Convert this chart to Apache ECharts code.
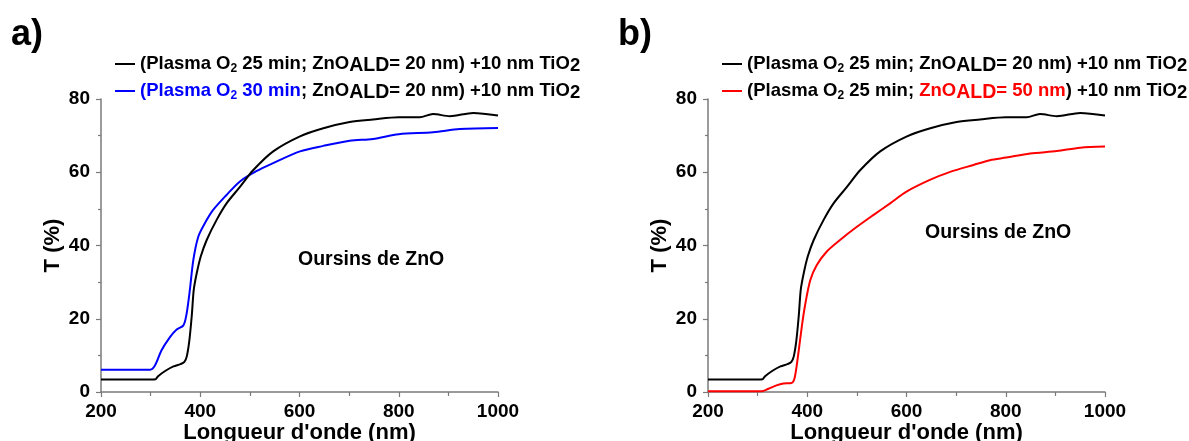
<!DOCTYPE html>
<html>
<head>
<meta charset="utf-8">
<script src="https://cdn.jsdelivr.net/npm/echarts@6/dist/echarts.min.js"></script>
<style>
html,body{margin:0;padding:0;background:#fff;}
#chart{width:1189px;height:441px;}
</style>
</head>
<body>
<div id="chart"></div>
<script>
// ---- data ----
const xTicks = [200, 400, 600, 800, 1000];
const yTicks = [0, 20, 40, 60, 80];

// Plasma O2 25 min; ZnO ALD = 20 nm (black, both panels)
const blackNm = [200, 250, 300, 310, 315, 330, 346, 360, 368, 373, 378, 383, 387, 393, 401, 413, 433, 453, 480, 507, 547, 601, 648, 701, 748, 800, 842, 869, 903, 950, 1000];
const blackT  = [3.4, 3.4, 3.4, 3.5, 4.3, 5.8, 7.0, 7.6, 8.2, 9.8, 14, 21, 28, 32.5, 37, 41.5, 47, 51.5, 56, 60.6, 65.7, 69.8, 72, 73.7, 74.4, 75, 75, 75.9, 75.3, 76.2, 75.5];

// Plasma O2 30 min; ZnO ALD = 20 nm (blue, panel a)
const blueNm = [200, 250, 299, 309, 322, 339, 352, 366, 372, 379, 386, 396, 409, 426, 453, 480, 513, 547, 601, 648, 701, 748, 800, 869, 923, 1000];
const blueT  = [6.1, 6.1, 6.1, 7.3, 11.4, 15, 17, 18.2, 21, 27.8, 36, 42.4, 46, 49.7, 53.8, 57.5, 60.3, 62.5, 65.7, 67.2, 68.6, 69.1, 70.4, 70.9, 71.8, 72.1];

// Plasma O2 25 min; ZnO ALD = 50 nm (red, panel b)
const redNm = [200, 250, 308, 322, 338, 352, 369, 375, 382, 389, 395, 406, 419, 439, 466, 500, 533, 567, 600, 647, 688, 735, 768, 801, 849, 903, 950, 1000];
const redT  = [0.2, 0.2, 0.2, 0.9, 1.8, 2.3, 2.5, 4.1, 10.5, 17.8, 23.2, 30.5, 34.6, 38.3, 41.5, 45.1, 48.3, 51.5, 54.7, 57.9, 60.1, 62, 63.3, 64, 65.1, 65.8, 66.7, 67];

const nameBlack = 'black25_20';
const nameBlue = 'blue30_20';
const nameRed = 'red25_50';
const legendRich = {
  [nameBlack]: '{b|(Plasma O}{s|2}{b| 25 min; ZnO}{ald|ALD}{b|= 20 nm) +10 nm TiO}{t|2}',
  [nameBlue]:  '{bl|(Plasma O}{sbl|2}{bl| 30 min}{b|; ZnO}{ald|ALD}{b|= 20 nm) +10 nm TiO}{t|2}',
  [nameRed]:   '{b|(Plasma O}{s|2}{b| 25 min; }{r|ZnO}{aldr|ALD}{r|= 50 nm}{b|) +10 nm TiO}{t|2}'
};
const panelTitles = ['a)', 'b)'];
const annotation = 'Oursins de ZnO';
const xName = "Longueur d'onde (nm)";
const yName = 'T (%)';

function zip(xs, ys){ return xs.map((x,i)=>[x, ys[i]]); }

const FONT = '"Liberation Sans", Arial, sans-serif';
const FS = 18.5;
const baseRich = {
  b:   {fontFamily: FONT, fontWeight:'bold', fontSize:FS, color:'#000', lineHeight:20},
  bl:  {fontFamily: FONT, fontWeight:'bold', fontSize:FS, color:'#0000ff', lineHeight:20},
  r:   {fontFamily: FONT, fontWeight:'bold', fontSize:FS, color:'#ff0000', lineHeight:20},
  s:   {fontFamily: FONT, fontWeight:'bold', fontSize:12, color:'#000', lineHeight:20, padding:[9,0,0,0]},
  sbl: {fontFamily: FONT, fontWeight:'bold', fontSize:12, color:'#0000ff', lineHeight:20, padding:[9,0,0,0]},
  ald: {fontFamily: FONT, fontWeight:'bold', fontSize:19.5, color:'#000', lineHeight:20, padding:[4,0,0,0]},
  aldr:{fontFamily: FONT, fontWeight:'bold', fontSize:19.5, color:'#ff0000', lineHeight:20, padding:[4,0,0,0]},
  t:   {fontFamily: FONT, fontWeight:'bold', fontSize:FS, color:'#000', lineHeight:20, padding:[3,0,0,0]}
};

const gridLefts = [101, 708];
const axisGray = '#7a7a7a';

function xAxisFor(i){
  return {
    type:'value', gridIndex:i, min:200, max:1000, interval:200,
    name:xName, nameLocation:'middle', nameGap:30, nameMoveOverlap:false,
    nameTextStyle:{fontFamily:FONT, fontWeight:'bold', fontSize:22, color:'#000'},
    axisLine:{show:true, lineStyle:{color:axisGray, width:1.5}},
    axisTick:{show:true, inside:false, length:5, lineStyle:{color:axisGray, width:1.2}},
    minorTick:{show:true, splitNumber:2, length:4, lineStyle:{color:axisGray, width:1.2}},
    splitLine:{show:false},
    axisLabel:{fontFamily:FONT, fontWeight:'bold', fontSize:19, color:'#000', margin:10,
      formatter:(v)=> xTicks.includes(v) ? String(v) : ''}
  };
}
function yAxisFor(i){
  return {
    type:'value', gridIndex:i, min:0, max:80, interval:20,
    name:yName, nameLocation:'middle', nameGap:37, nameRotate:90,
    nameTextStyle:{fontFamily:FONT, fontWeight:'bold', fontSize:22, color:'#000'},
    axisLine:{show:true, lineStyle:{color:axisGray, width:1.5}},
    axisTick:{show:true, inside:false, length:5, lineStyle:{color:axisGray, width:1.2}},
    minorTick:{show:true, splitNumber:2, length:3, lineStyle:{color:axisGray, width:1.2}},
    splitLine:{show:false},
    axisLabel:{fontFamily:FONT, fontWeight:'bold', fontSize:19, color:'#000', margin:11,
      formatter:(v)=> yTicks.includes(v) ? String(v) : ''}
  };
}
function lineSeries(name, xi, color, xs, ys){
  return {
    name, type:'line', xAxisIndex:xi, yAxisIndex:xi,
    data: zip(xs, ys), showSymbol:false, symbol:'none',
    smooth:0.3,
    lineStyle:{color, width:2}, itemStyle:{color},
    z: color === '#000000' ? 3 : 2
  };
}
function legendFor(i, names){
  return {
    orient:'vertical', left: gridLefts[i] + 9, top: 47,
    itemGap: 3, itemWidth: 20, itemHeight: 2, icon:'rect',
    data: names, selectedMode:false,
    formatter: (n)=> legendRich[n],
    textStyle:{rich: baseRich}
  };
}

const chart = echarts.init(document.getElementById('chart'), null, {renderer:'canvas'});
chart.setOption({
  animation:false,
  backgroundColor:'#fff',
  title: panelTitles.map((t,i)=>({
    text:t, left: i===0 ? 6 : 613, top: 12,
    textStyle:{fontFamily:FONT, fontWeight:'bold', fontSize:36, color:'#000'}
  })),
  grid: gridLefts.map(l=>({left:l, top:99, width:397, height:293, containLabel:false, outerBoundsMode:'none'})),
  xAxis:[xAxisFor(0), xAxisFor(1)],
  yAxis:[yAxisFor(0), yAxisFor(1)],
  legend:[legendFor(0,[nameBlack, nameBlue]), legendFor(1,[nameBlack, nameRed])],
  series:[
    lineSeries(nameBlue, 0, '#0000ff', blueNm, blueT),
    lineSeries(nameBlack, 0, '#000000', blackNm, blackT),
    lineSeries(nameRed, 1, '#ff0000', redNm, redT),
    lineSeries(nameBlack, 1, '#000000', blackNm, blackT)
  ],
  graphic:[
    {type:'text', left: 298, top: 250, style:{text:annotation, fontFamily:FONT, fontWeight:'bold', fontSize:19.5, fill:'#000'}},
    {type:'text', left: 925, top: 223, style:{text:annotation, fontFamily:FONT, fontWeight:'bold', fontSize:19.5, fill:'#000'}}
  ]
});
</script>
</body>
</html>
